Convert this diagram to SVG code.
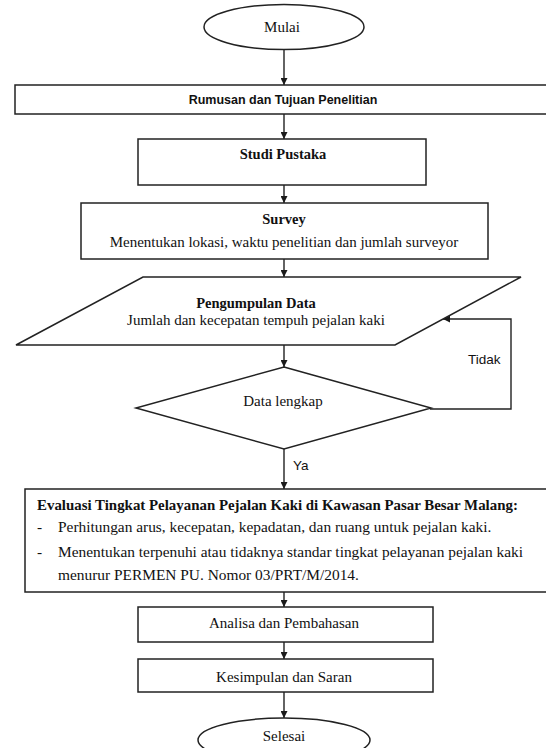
<svg xmlns="http://www.w3.org/2000/svg" width="546" height="748" viewBox="0 0 546 748">
<defs>
<marker id="ah" viewBox="0 0 10 10" refX="10" refY="5" markerWidth="7" markerHeight="7" markerUnits="userSpaceOnUse" orient="auto">
<path d="M0,0 L10,5 L0,10 Z" fill="#1a1a1a"/>
</marker>
</defs>
<style>
.shape{fill:#fff;stroke:#222;stroke-width:1.5}
.conn{fill:none;stroke:#222;stroke-width:1.4}
.sb{font-family:"Liberation Serif","Times New Roman",serif;font-weight:bold;font-size:14.5px;fill:#111}
.sr{font-family:"Liberation Serif","Times New Roman",serif;font-size:15px;fill:#111}
.ev{font-size:15.4px}
.evb{font-size:14.9px}
.ss{font-family:"Liberation Sans",Arial,sans-serif;font-size:13.5px;fill:#111}
.ssb{font-family:"Liberation Sans",Arial,sans-serif;font-size:12.5px;font-weight:bold;fill:#111}
</style>
<rect width="546" height="748" fill="#fff"/>
<g id="connectors">
<line class="conn" x1="284" y1="50" x2="284" y2="85" marker-end="url(#ah)"/>
<line class="conn" x1="284" y1="114" x2="284" y2="139" marker-end="url(#ah)"/>
<line class="conn" x1="284" y1="185" x2="284" y2="203" marker-end="url(#ah)"/>
<line class="conn" x1="284" y1="259" x2="284" y2="277" marker-end="url(#ah)"/>
<line class="conn" x1="284" y1="345" x2="284" y2="367" marker-end="url(#ah)"/>
<polyline class="conn" points="430,409 511,409 511,319 443,319" marker-end="url(#ah)"/>
<line class="conn" x1="284" y1="449" x2="284" y2="489" marker-end="url(#ah)"/>
<line class="conn" x1="284" y1="592" x2="284" y2="607" marker-end="url(#ah)"/>
<line class="conn" x1="284" y1="642" x2="284" y2="659" marker-end="url(#ah)"/>
<line class="conn" x1="284" y1="692" x2="284" y2="718" marker-end="url(#ah)"/>
<text class="ss" x="468" y="364">Tidak</text>
<text class="ss" x="293" y="470">Ya</text>
</g>
<g id="mulai">
<ellipse class="shape" cx="284" cy="27" rx="80" ry="22.5"/>
<text class="sr" x="282" y="32" text-anchor="middle">Mulai</text>
</g>
<g id="rumusan">
<rect class="shape" x="15" y="85" width="545" height="29"/>
<text class="ssb" x="283" y="104" text-anchor="middle">Rumusan dan Tujuan Penelitian</text>
</g>
<g id="studi">
<rect class="shape" x="138" y="139" width="288" height="46"/>
<text class="sb" x="283" y="159" text-anchor="middle">Studi Pustaka</text>
</g>
<g id="survey">
<rect class="shape" x="81" y="203" width="407" height="56"/>
<text class="sb" x="284" y="224" text-anchor="middle">Survey</text>
<text class="sr" x="284" y="247" text-anchor="middle">Menentukan lokasi, waktu penelitian dan jumlah surveyor</text>
</g>
<g id="pengumpulan">
<polygon class="shape" points="143,277 521,277 395,345 16,345"/>
<text class="sb" x="256" y="308" text-anchor="middle">Pengumpulan Data</text>
<text class="sr" x="256" y="325" text-anchor="middle">Jumlah dan kecepatan tempuh pejalan kaki</text>
</g>
<g id="data-lengkap">
<polygon class="shape" points="284,367 431,408 284,449 136,408"/>
<text class="sr" x="283" y="406" text-anchor="middle">Data lengkap</text>
</g>
<g id="evaluasi">
<rect class="shape" x="25" y="489" width="535" height="103"/>
<text class="sb evb" x="37" y="510">Evaluasi Tingkat Pelayanan Pejalan Kaki di Kawasan Pasar Besar Malang:</text>
<text class="sr ev" x="37" y="532">-</text>
<text class="sr ev" x="58" y="532">Perhitungan arus, kecepatan, kepadatan, dan ruang untuk pejalan kaki.</text>
<text class="sr ev" x="37" y="557">-</text>
<text class="sr ev" x="58" y="557">Menentukan terpenuhi atau tidaknya standar tingkat pelayanan pejalan kaki</text>
<text class="sr ev" x="58" y="580">menurur PERMEN PU. Nomor 03/PRT/M/2014.</text>
</g>
<g id="analisa">
<rect class="shape" x="138" y="607" width="295" height="35"/>
<text class="sr" x="284" y="628" text-anchor="middle">Analisa dan Pembahasan</text>
</g>
<g id="kesimpulan">
<rect class="shape" x="138" y="659" width="295" height="33"/>
<text class="sr" x="284" y="682" text-anchor="middle">Kesimpulan dan Saran</text>
</g>
<g id="selesai">
<ellipse class="shape" cx="284" cy="740" rx="86" ry="22"/>
<text class="sr" x="284" y="741" text-anchor="middle">Selesai</text>
</g>
</svg>
